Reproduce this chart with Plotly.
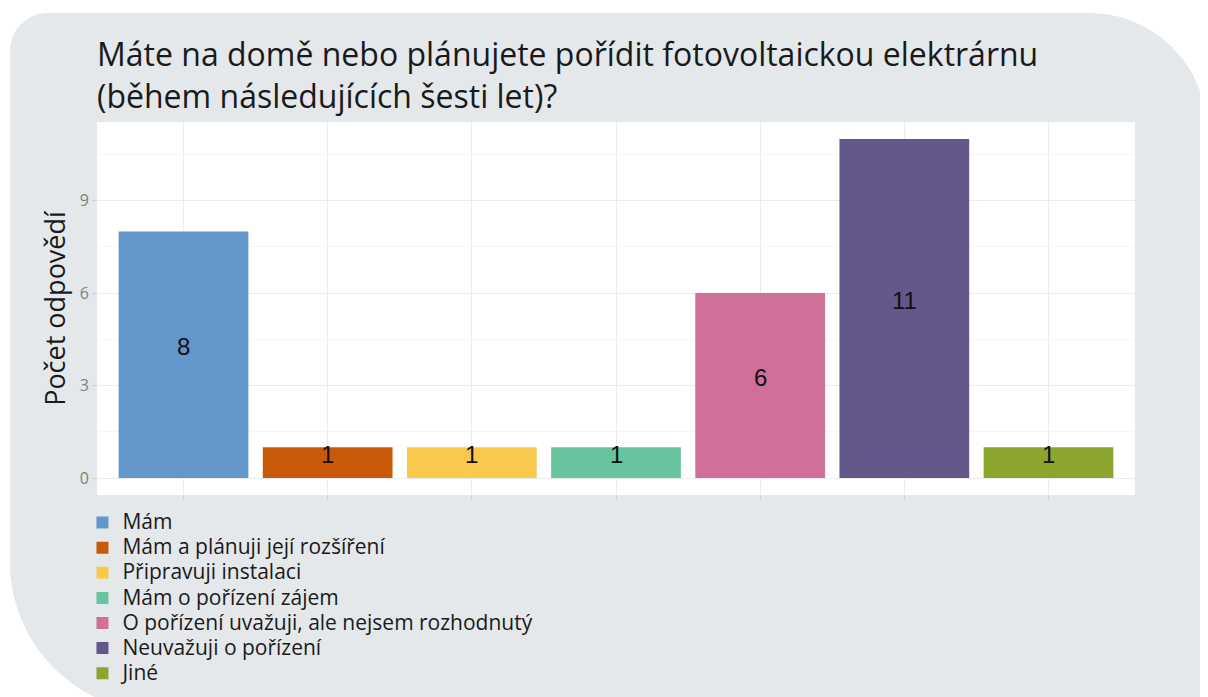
import plotly.graph_objects as go

# ─── Data ────────────────────────────────────────────────────────────────
odpovedi = [
    "Mám",
    "Mám a plánuji její rozšíření",
    "Připravuji instalaci",
    "Mám o pořízení zájem",
    "O pořízení uvažuji, ale nejsem rozhodnutý",
    "Neuvažuji o pořízení",
    "Jiné",
]
pocty = [8, 1, 1, 1, 6, 11, 1]
barvy = ["#6497c9", "#c95a0a", "#f8c94c", "#67c49e", "#d06f98", "#645789", "#8ba52d"]

TITULEK = "Máte na domě nebo plánujete pořídit fotovoltaickou elektrárnu<br>(během následujících šesti let)?"
FONT = "'Open Sans', 'Noto Sans', sans-serif"

# stránka má okraj 8 px, figura tedy začíná na (8, 8)
OFF = 8
W, H = 1200, 689
ML, MT = 97 - OFF, 122 - OFF
MR, MB = W - (1135 - OFF), H - (495 - OFF)
PW, PH = W - ML - MR, H - MT - MB


def px2paper(x, y):
    """Pixel stránky -> paper souřadnice."""
    return (x - OFF - ML) / PW, (H - MB - (y - OFF)) / PH


def karta(x0, y0, x1, y1, r_tl, r_tr, r_bl, r_br):
    """Zaoblený obdélník (pixely -> paper), kubické bezierovy oblouky."""
    k = 0.5523

    def P(x, y):
        a, b = px2paper(x, y)
        return f"{a:.5f},{b:.5f}"

    d = [
        f"M {P(x0 + r_tl, y0)}",
        f"L {P(x1 - r_tr, y0)}",
        f"C {P(x1 - r_tr + k * r_tr, y0)} {P(x1, y0 + r_tr - k * r_tr)} {P(x1, y0 + r_tr)}",
        f"L {P(x1, y1 - r_br)}",
        f"C {P(x1, y1 - r_br + k * r_br)} {P(x1 - r_br + k * r_br, y1)} {P(x1 - r_br, y1)}",
        f"L {P(x0 + r_bl, y1)}",
        f"C {P(x0 + r_bl - k * r_bl, y1)} {P(x0, y1 - r_bl + k * r_bl)} {P(x0, y1 - r_bl)}",
        f"L {P(x0, y0 + r_tl)}",
        f"C {P(x0, y0 + r_tl - k * r_tl)} {P(x0 + r_tl - k * r_tl, y0)} {P(x0 + r_tl, y0)}",
        "Z",
    ]
    return " ".join(d)


fig = go.Figure()

for kat, n, c in zip(odpovedi, pocty, barvy):
    fig.add_trace(go.Bar(
        x=[kat], y=[n],
        # větší písmo v legendě při zachování husté rozteče řádků
        name=f"<span style='font-size:21px'>{kat}</span>",
        marker=dict(color=c, line=dict(width=0)),
        width=0.9,
        hovertemplate=f"{kat}<br>Počet: %{{y}}<extra></extra>",
    ))

# popisky uprostřed sloupců
for kat, n in zip(odpovedi, pocty):
    fig.add_annotation(
        x=kat, y=n / 2, text=str(n),
        showarrow=False, yshift=8,
        font=dict(family="Liberation Sans, Arial", size=24, color="#111111"),
    )

# šedá karta na pozadí + bílá plocha grafu
fig.add_shape(
    type="path", xref="paper", yref="paper", layer="below",
    path=karta(10, 13, 1207, 712, 38, 118, 150, 0),
    fillcolor="#e4e8eb", line=dict(width=0),
)
fig.add_shape(
    type="rect", xref="paper", yref="paper", layer="below",
    x0=0, x1=1, y0=0, y1=1,
    fillcolor="white", line=dict(width=0),
)

fig.update_layout(
    width=W, height=H,
    margin=dict(l=ML, r=MR, t=MT, b=MB, autoexpand=False),
    paper_bgcolor="white",
    plot_bgcolor="white",
    barmode="overlay",
    font=dict(family=FONT, color="#1a1a1a"),
    title=dict(
        text=TITULEK,
        font=dict(family=FONT, size=32, color="#1a1a1a"),
        xref="paper", x=0, xanchor="left",
        yref="container", y=1 - 58 / H, yanchor="middle",
    ),
    xaxis=dict(
        categoryorder="array", categoryarray=odpovedi,
        range=[-0.6, 6.6],
        showticklabels=False,
        ticks="outside", ticklen=4, tickcolor="#d0d0d0",
        showgrid=True, gridcolor="#ebebeb", gridwidth=1,
        zeroline=False, showline=False, automargin=False,
    ),
    yaxis=dict(
        range=[-0.55, 11.55],
        tickvals=[0, 3, 6, 9],
        ticks="outside", ticklen=4, tickcolor="#d0d0d0",
        tickfont=dict(family=FONT, size=16, color="#808080"),
        showgrid=True, gridcolor="#ebebeb", gridwidth=1,
        minor=dict(tickvals=[1.5, 4.5, 7.5, 10.5], showgrid=True, gridcolor="#f6f6f6", ticks=""),
        zeroline=False, showline=False, automargin=False,
        title=dict(text="Počet odpovědí", font=dict(family=FONT, size=27, color="#1a1a1a"), standoff=6),
    ),
    legend=dict(
        orientation="v",
        x=-0.014, xanchor="left",
        y=-0.027, yanchor="top",
        bgcolor="rgba(0,0,0,0)",
        font=dict(family=FONT, size=17, color="#1a1a1a"),
        tracegroupgap=0,
        itemwidth=30,
    ),
    showlegend=True,
)

fig.write_html("out.html")
